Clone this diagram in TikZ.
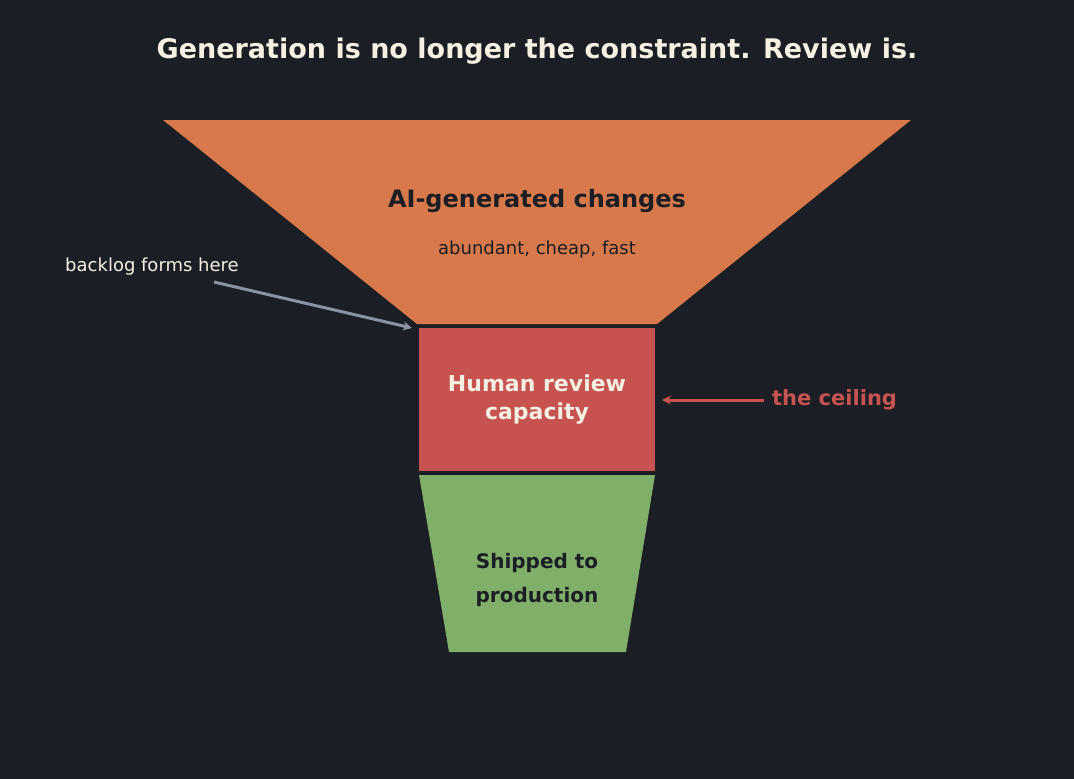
\documentclass[tikz,border=0pt]{standalone}
\usepackage{fontspec}
\setmainfont{DejaVu Sans}
\usetikzlibrary{arrows.meta}
\definecolor{bgC}{HTML}{1B1E25}
\definecolor{orC}{HTML}{D7794A}
\definecolor{rdC}{HTML}{C75351}
\definecolor{gnC}{HTML}{7FAF69}
\definecolor{crC}{HTML}{F5F0E1}
\definecolor{grC}{HTML}{8A93A3}
\tikzstyle{tS}=[inner sep=0pt,align=center]
\tikzstyle{aS}=[line width=3pt,-{Stealth[length=9pt,width=9pt]}]
\begin{document}
\begin{tikzpicture}[x=1pt,y=-1pt]
                \fill[bgC] (0,0) rectangle (1074,779);
                \fill[orC] (163,120) -- (911,120) -- (657,324) -- (417,324) -- cycle;
                \fill[rdC] (419,328) rectangle (655,471);
                \fill[gnC] (419,475) -- (655,475) -- (626,652) -- (449,652) -- cycle;
                \node[tS,text=crC,font=\bfseries\fontsize{27}{32}\selectfont] (title) at (537,51) {Generation is no longer the constraint. Review is.};
                \node[tS,text=bgC,font=\bfseries\fontsize{24}{28}\selectfont] (ai) at (537,201) {AI-generated changes};
                \node[tS,text=bgC,font=\fontsize{18}{22}\selectfont] (ab) at (537,250) {abundant, cheap, fast};
                \node[tS,text=crC,font=\bfseries\fontsize{22}{28}\selectfont] (hr) at (537,400) {Human review\\capacity};
                \node[tS,text=bgC,font=\bfseries\fontsize{20}{34}\selectfont] (sp) at (537,580) {Shipped to\\production};
                \node[tS,text=crC,font=\fontsize{18}{22}\selectfont] (bl) at (152,267) {backlog forms here};
                \node[tS,text=rdC,font=\bfseries\fontsize{21}{26}\selectfont,anchor=west] (ce) at (772,400) {the ceiling};
                \coordinate (bs) at (214,282);
                \coordinate (bt) at (412,328);
                \coordinate (cs) at (764,400);
                \coordinate (ct) at (662,400);
                \draw[aS,grC] (bs) -- (bt);
                \draw[aS,rdC] (cs) -- (ct);
        \end{tikzpicture}
\end{document}
